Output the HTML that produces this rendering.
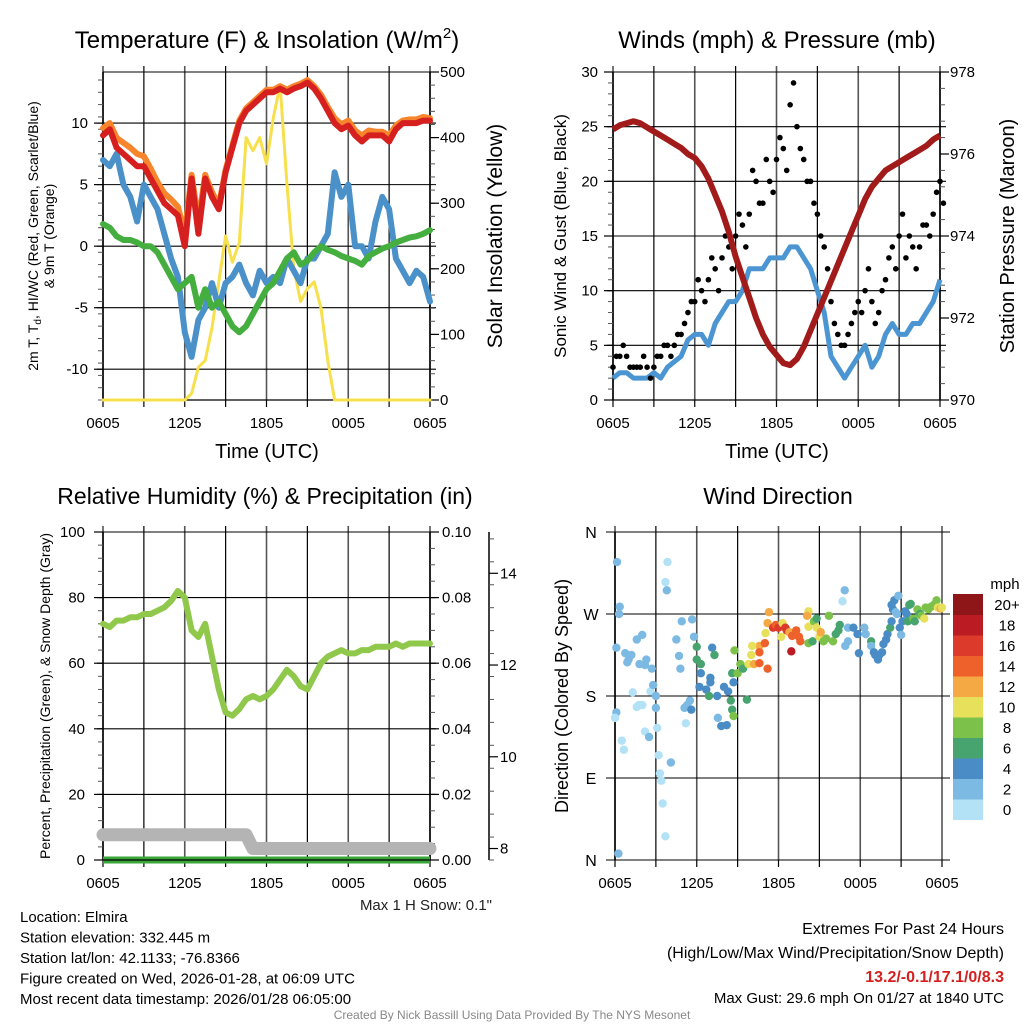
<!DOCTYPE html>
<html><head><meta charset="utf-8"><style>
html,body{margin:0;padding:0;background:#fff;}
svg{display:block;font-family:"Liberation Sans",Arial,sans-serif;}
</style></head><body>
<svg id="s" width="1024" height="1024" viewBox="0 0 1024 1024" xmlns="http://www.w3.org/2000/svg">
<g id="layer"></g>
</svg>
<script>
// ---------- data (hourly offsets 0..24 every 0.5 h) ----------
const xTickLabels = ["0605","1205","1805","0005","0605"];
const tempRed = [9,9.5,8,7.5,7,6.5,6.5,5.5,4.5,3.5,3,2.5,0,5.5,1,5.5,4,3,6,8,10,11,11.5,12,12.5,12.5,12.8,12.5,12.8,13,13.3,12.8,12,11,10,9.5,9.8,9,8.5,9,9,9,8.5,9.5,10,10,10,10.2,10.2];
const tempOrange = [9.6,10,8.8,8.4,8,7.5,7.3,6.3,5.2,4.3,3.8,3.2,1,5.8,2,5.8,4.4,3.3,6.2,8.2,10.2,11.2,11.7,12.2,12.7,12.7,13,12.7,13,13.2,13.5,13,12.3,11.3,10.4,9.9,10.2,9.4,9,9.4,9.3,9.3,9,9.8,10.2,10.3,10.3,10.5,10.4];
const dewGreen = [1.8,1.5,0.8,0.5,0.5,0.3,0,0,-0.5,-1.5,-2.5,-3.5,-3,-2.5,-5,-3.5,-5,-4.5,-5.5,-6.5,-7,-6.5,-5.5,-4.5,-3.5,-3,-2,-1,-0.5,-1.5,-1.2,-0.5,0,-0.3,-0.5,-0.8,-1,-1.2,-1.5,-0.8,-0.5,-0.2,0,0.3,0.5,0.7,0.8,1,1.3];
const chillBlue = [7,6.5,7.5,5,4,2,5,4,3,1,-1,-2.5,-7,-9,-6,-5,-3,-5,-3,-2.5,-1.5,-3,-4,-2,-3,-2.5,-3,-1,-2,-3,-1,-1,0,1,6,4,5,0,0,-1,2,4,3,-1,-2,-3,-2,-2.5,-4.5];
const solar = [0,0,0,0,0,0,0,0,0,0,0,0,0,10,50,60,110,180,250,210,240,400,380,400,360,430,480,330,200,150,170,180,140,60,0,0,0,0,0,0,0,0,0,0,0,0,0,0,0];
const windSonic = [2,2.5,2.5,2,2,2,2.5,2,3,3.5,4,5.5,6,6,5,7,8,9,9,10,12,12,12,13,13,13,14,14,13,12,10,8,4,3,2,3,4,5,3,4,6,7,6,6,7,7,8,9,11];
const windGust = [3,4,4,3,3,3,3,4,5,5,6,8,9,10,11,12,13,14,15,16,17,20,18,20,22,23,27,25,22,20,17,14,9,6,5,7,9,10,9,8,11,14,15,13,14,14,16,17,20];
const windGust2 = [4,5,3,3,4,2,4,5,4,6,7,9,11,9,13,10,15,12,17,14,21,18,22,19,24,21,29,23,20,18,15,12,7,5,6,8,8,12,7,10,13,12,17,15,12,16,15,19,18];
const pressure = [976.6,976.7,976.75,976.8,976.75,976.65,976.55,976.45,976.35,976.25,976.15,976.0,975.9,975.7,975.4,975.0,974.6,974.1,973.5,973.0,972.5,972.0,971.6,971.3,971.1,970.9,970.85,971.0,971.3,971.7,972.1,972.5,972.9,973.3,973.7,974.1,974.5,974.9,975.2,975.4,975.6,975.7,975.8,975.9,976.0,976.1,976.2,976.35,976.45];
const rhGreen = [72,71,73,73,74,74,75,75,76,77,79,82,80,70,68,72,62,52,45,44,46,49,50,49,50,52,55,58,56,53,52,56,60,62,63,64,63,63,64,64,65,65,65,66,65,66,66,66,66];
const precip = [0,0,0,0,0,0,0,0,0,0,0,0,0,0,0,0,0,0,0,0,0,0,0,0,0,0,0,0,0,0,0,0,0,0,0,0,0,0,0,0,0,0,0,0,0,0,0,0,0];
const snowDepth = [8.3,8.3,8.3,8.3,8.3,8.3,8.3,8.3,8.3,8.3,8.3,8.3,8.3,8.3,8.3,8.3,8.3,8.3,8.3,8.3,8.3,8.3,8.0,8.0,8.0,8.0,8.0,8.0,8.0,8.0,8.0,8.0,8.0,8.0,8.0,8.0,8.0,8.0,8.0,8.0,8.0,8.0,8.0,8.0,8.0,8.0,8.0,8.0,8.0];
const dirTimes = [0.15,0.1,0.1,0,0.35,0.3,0.5,0.65,0.25,0.75,0.9,1.0,1.2,1.3,1.6,1.75,1.8,2.0,1.6,2.2,2.3,2.0,2.2,2.5,2.6,2.7,2.8,3.0,3.0,3.1,3.2,3.3,3.4,3.5,3.7,3.7,3.8,3.85,4.1,4.9,4.5,4.7,4.8,5.1,5.2,5.3,5.5,5.6,5.66,5.8,6.0,6.0,6.3,6.3,6.2,6.7,6.9,7.0,7.13,7.3,7.0,7.5,7.55,7.8,8.2,8.0,8.3,8.5,8.6,8.7,8.77,8.6,8.7,9.0,9.2,9.4,9.68,9.8,10.0,10.2,10.6,10.6,10.07,10.6,11.0,11.2,11.05,11.2,11.3,11.6,11.8,12.0,12.2,12.3,12.5,12.6,12.94,12.8,13.0,13.3,13.5,13.6,14.2,14.1,14.2,14.2,14.5,14.6,14.8,14.8,15.0,15.1,15.3,15.5,15.7,16.0,16.2,16.4,16.5,16.9,17.1,17.1,16.7,16.86,17.5,17.8,17.9,18.3,18.4,18.8,18.8,19.0,19.1,19.3,19.4,19.6,19.7,19.9,20.0,20.2,20.3,20.3,20.4,20.5,20.6,20.7,20.8,20.9,21.0,21.1,21.3,21.4,21.5,21.6,21.7,21.9,22.0,22.2,22.4,22.5,22.7,22.8,23.0,23.2,23.4,23.6,23.7,23.9,24.0];
const dirDegrees = [327,233,162,156,278,270,131,121,7,227,217,220,225,184,168,170,215,247,242,214,220,170,141,135,185,210,192,180,167,145,115,95,87,62,26,305,296,327,107,262,242,224,210,167,150,170,175,165,264,245,234,220,215,205,190,187,180,200,233,225,195,180,156,147,148,190,185,175,165,158,230,205,195,205,215,210,176,215,225,215,235,216,235,228,238,210,249,260,272,255,258,255,245,260,255,252,229,250,246,252,245,240,273,268,256,238,240,262,265,255,245,250,240,243,268,240,248,252,258,235,240,255,284,296,255,248,227,255,248,240,235,228,225,220,225,228,237,242,248,255,262,280,275,285,272,270,290,255,247,262,273,270,262,280,281,265,262,275,270,268,265,277,275,278,280,285,277,276,277];
const dirSpeeds = [3,3,3,1,2,2,0,0,3,2,2,2,2,0,0,0,2,2,2,2,2,1,1,2,1,3,3,3,3,1,0,0,0,0,0,0,2,0,3,2,2,2,2,2,1,3,2,4,2,2,6,6,6,4,4,4,6,4,4,6,4,4,3,4,4,4,4,6,6,8,8,6,4,8,8,6,6,10,10,12,12,14,10,14,14,14,10,12,12,16,14,16,10,10,16,16,18,12,14,14,14,14,10,12,10,8,6,8,6,10,10,12,8,8,8,8,6,6,6,2,2,2,0,2,4,4,4,2,2,6,2,4,4,4,4,4,4,4,4,6,4,4,4,4,2,2,2,4,2,4,4,4,6,6,6,8,6,8,6,8,10,8,8,8,8,8,10,12,10];
const speedBins = ["0","2","4","6","8","10","12","14","16","18","20+"];
const binColors = ["#b3e2f7","#7cb9e3","#4a8dc6","#48a46f","#7cc24a","#e7e05a","#f5a945","#ee612a","#dc3a2b","#bb1c24","#8e1619"];

// ---------- helpers ----------
const NS="http://www.w3.org/2000/svg";
const root=document.getElementById('layer');
function mk(tag,attrs,parent,text){const e=document.createElementNS(NS,tag);for(const k in attrs)e.setAttribute(k,attrs[k]);if(text!==undefined)e.textContent=text;(parent||root).appendChild(e);return e;}
function grp(name){const g=mk('g',{});


return g;}
function txt(g,name,x,y,s,size,anchor,extra){const t=mk('text',Object.assign({x:x,y:y,'font-size':size,'text-anchor':anchor||'middle',fill:'#000'},extra||{}),g,s);


return t;}
const HOURS = tempRed.map((_,i)=>i*0.5);

function panel(name,x0,x1,y0,y1){
  const g=grp(name);
  const xs=h=>x0+(x1-x0)*h/24;
  // vertical grid every 3 h
  for(let k=0;k<=8;k++){const x=xs(k*3);
    const l=mk('line',{x1:x,x2:x,y1:y0-6,y2:y1,stroke:(k%2)?'#000':'#555','stroke-width':(k%2)?1.2:1.6},g);
    
    
    mk('line',{x1:x,x2:x,y1:y1,y2:y1+7,stroke:'#000','stroke-width':1.2},g);
  }
  xTickLabels.forEach((s,i)=>{txt(g,'x-tick-label',xs(i*6),y1+28,s,15);});
  return {g,xs};
}
function yaxis(g,x,y0,y1,vmin,vmax,ticks,minor,labelX,anchor,dir,grid,gx0,gx1,fmt){
  const ys=v=>y1-(v-vmin)/(vmax-vmin)*(y1-y0);
  mk('line',{x1:x,x2:x,y1:y0,y2:y1,stroke:'#000','stroke-width':1.5},g);
  for(let v=vmin;v<=vmax+1e-9;v+=minor){const y=ys(v);mk('line',{x1:x,x2:x+dir*5,y1:y,y2:y,stroke:'#555','stroke-width':1},g);}
  ticks.forEach(v=>{const y=ys(v);
    mk('line',{x1:x,x2:x+dir*9,y1:y,y2:y,stroke:'#000','stroke-width':1.2},g);
    if(grid){const l=mk('line',{x1:gx0,x2:gx1,y1:y,y2:y,stroke:'#000','stroke-width':1.1},g);
      
      }
    txt(g,'y-tick-label',labelX,y+5,fmt?fmt(v):String(v),15,anchor);
  });
  return ys;
}
function pathD(xs,ys,vals){return vals.map((v,i)=>(i?'L':'M')+xs(HOURS[i]).toFixed(1)+' '+ys(v).toFixed(1)).join(' ');}

// ---------- Panel 1: temperature ----------
(function(){
  const x0=103,x1=430,y0=72,y1=400;
  const {g,xs}=panel('temperature-panel',x0,x1,y0,y1);
  const ysT=yaxis(g,x0,y0,y1,-12.5,14.15,[-10,-5,0,5,10],1,88,'end',-1,true,x0-6,x1+6);
  const ysS=yaxis(g,x1,y0,y1,0,500,[0,100,200,300,400,500],20,440,'start',1,false);
  mk('line',{x1:x0,x2:x1,y1:y0,y2:y0,stroke:'#000','stroke-width':1.1},g);
  mk('line',{x1:x0,x2:x1,y1:y1,y2:y1,stroke:'#000','stroke-width':1.3},g);
  const series=[['solar-line',solar,ysS,'#f7e04b',3],['wind-chill-line',chillBlue,ysT,'#4a90c9',6],['dewpoint-line',dewGreen,ysT,'#44ae3f',6],['temp-9m-line',tempOrange,ysT,'#f7852c',6],['temp-2m-line',tempRed,ysT,'#d62020',6]];
  series.forEach(s=>{const p=mk('path',{d:pathD(xs,s[2],s[1]),fill:'none',stroke:s[3],'stroke-width':s[4],'stroke-linejoin':'round','stroke-linecap':'round'},g);
    
    });
  const t=txt(g,'chart-title',267,48,'',24);
  t.innerHTML='Temperature (F) &amp; Insolation (W/m<tspan font-size="15" dy="-10">2</tspan><tspan dy="10">)</tspan>';
  txt(g,'x-axis-title',267,458,'Time (UTC)',20);
  const yl=txt(g,'y-axis-title-left',0,0,'',14,'middle',{transform:'translate(38,236) rotate(-90)'});
  yl.innerHTML='2m T, T<tspan font-size="10" dy="3">d</tspan><tspan dy="-3">, HI/WC (Red, Green, Scarlet/Blue)</tspan>';
  txt(g,'y-axis-title-left-2',0,0,'& 9m T (Orange)',14,'middle',{transform:'translate(54,236) rotate(-90)'});
  txt(g,'y-axis-title-right',0,0,'Solar Insolation (Yellow)',21,'middle',{transform:'translate(502,236) rotate(-90)'});
})();

// ---------- Panel 2: winds ----------
(function(){
  const x0=613,x1=940,y0=72,y1=400;
  const {g,xs}=panel('winds-panel',x0,x1,y0,y1);
  const ysW=yaxis(g,x0,y0,y1,0,30,[0,5,10,15,20,25,30],1,598,'end',-1,true,x0-6,x1+6);
  const ysP=yaxis(g,x1,y0,y1,970,978,[970,972,974,976,978],0.4,950,'start',1,false);
  mk('line',{x1:x0,x2:x1,y1:y1,y2:y1,stroke:'#000','stroke-width':1.3},g);
  const p=mk('path',{d:pathD(xs,ysW,windSonic),fill:'none',stroke:'#4b96d2','stroke-width':5,'stroke-linejoin':'round'},g);
  
  
  [windGust,windGust2].forEach((arr,k)=>arr.forEach((v,i)=>{const c=mk('circle',{cx:xs(HOURS[i]+k*0.25),cy:ysW(v),r:2.8,fill:'#000'},g);
    
    }));
  const q=mk('path',{d:pathD(xs,ysP,pressure),fill:'none',stroke:'#a11b1b','stroke-width':6,'stroke-linejoin':'round'},g);
  
  
  txt(g,'chart-title',777,48,'Winds (mph) & Pressure (mb)',24);
  txt(g,'x-axis-title',777,458,'Time (UTC)',20);
  txt(g,'y-axis-title-left',0,0,'Sonic Wind & Gust (Blue, Black)',17,'middle',{transform:'translate(566,236) rotate(-90)'});
  txt(g,'y-axis-title-right',0,0,'Station Pressure (Maroon)',20,'middle',{transform:'translate(1014,236) rotate(-90)'});
})();

// ---------- Panel 3: RH ----------
(function(){
  const x0=103,x1=430,y0=532,y1=860;
  const {g,xs}=panel('humidity-panel',x0,x1,y0,y1);
  const ysR=yaxis(g,x0,y0,y1,0,100,[0,20,40,60,80,100],4,85,'end',-1,true,x0-6,x1+6);
  const ysPr=yaxis(g,x1,y0,y1,0,0.1,[0,0.02,0.04,0.06,0.08,0.1],0.005,442,'start',1,false,0,0,v=>v.toFixed(2));
  const ysSn=yaxis(g,489,y0,y1,7.75,14.9,[8,10,12,14],0.5,500,'start',1,false);
  const sn=mk('path',{d:pathD(xs,ysSn,snowDepth),fill:'none',stroke:'#b4b4b4','stroke-width':13,'stroke-linejoin':'round','stroke-linecap':'round'},g);
  
  
  const pr=mk('path',{d:pathD(xs,ysPr,precip),fill:'none',stroke:'#3aa63a','stroke-width':7},g);
  
  
  const rh=mk('path',{d:pathD(xs,ysR,rhGreen),fill:'none',stroke:'#8fc84b','stroke-width':6,'stroke-linejoin':'round','stroke-linecap':'round'},g);
  
  
  mk('line',{x1:x0,x2:x1,y1:y1,y2:y1,stroke:'#000','stroke-width':1.3},g);
  txt(g,'chart-title',265,504,'Relative Humidity (%) & Precipitation (in)',23);
  txt(g,'y-axis-title-left',0,0,'Percent, Precipitation (Green), & Snow Depth (Gray)',14,'middle',{transform:'translate(50,696) rotate(-90)'});
  txt(g,'snow-note',492,910,'Max 1 H Snow: 0.1"',15,'end',{fill:'#222'});
})();

// ---------- Panel 4: wind direction ----------
(function(){
  const x0=615,x1=942,y0=532,y1=860;
  const {g,xs}=panel('wind-direction-panel',x0,x1,y0,y1);
  const ysD=v=>y1-v/360*(y1-y0);
  mk('line',{x1:x0,x2:x0,y1:y0,y2:y1,stroke:'#000','stroke-width':1.5},g);
  ['N','E','S','W','N'].forEach((s,i)=>{const y=ysD(i*90);
    mk('line',{x1:x0-9,x2:x1+8,y1:y,y2:y,stroke:'#000','stroke-width':1.1},g);
    txt(g,'y-tick-label',591,y+6,s,16);});
  dirTimes.forEach((t,i)=>{const b=Math.min(10,Math.floor(dirSpeeds[i]/2));
    const c=mk('circle',{cx:xs(t),cy:ysD(dirDegrees[i]),r:4.2,fill:binColors[b]},g);
    
    });
  txt(g,'chart-title',778,504,'Wind Direction',23);
  txt(g,'y-axis-title-left',0,0,'Direction (Colored By Speed)',18,'middle',{transform:'translate(568,696) rotate(-90)'});
  const lg=grp('speed-legend');
  txt(lg,'legend-title',1005,589,'mph',15,'middle');
  const bh=20.5,top=594;
  speedBins.forEach((s,i)=>{const k=10-i;const y=top+(10-i)*bh;
    const r=mk('rect',{x:953,y:y,width:30,height:bh+0.5,fill:binColors[i]},lg);
    
    
    txt(lg,'legend-label',1007,y+16,s,15,'middle');});
})();

// ---------- footer text ----------
(function(){
  const g=grp('station-info');
  ['Location: Elmira','Station elevation: 332.445 m','Station lat/lon: 42.1133; -76.8366','Figure created on Wed, 2026-01-28, at 06:09 UTC','Most recent data timestamp: 2026/01/28 06:05:00'].forEach((s,i)=>txt(g,'info-line',20,922+i*20.5,s,15,'start'));
  const r=grp('extremes-info');
  txt(r,'extremes-title',1004,934,'Extremes For Past 24 Hours',16,'end');
  txt(r,'extremes-legend',1004,958,'(High/Low/Max Wind/Precipitation/Snow Depth)',16,'end');
  txt(r,'extremes-values',1004,982,'13.2/-0.1/17.1/0/8.3',16,'end',{fill:'#d42020','font-weight':'bold'});
  txt(r,'max-gust',1004,1003,'Max Gust: 29.6 mph On 01/27 at 1840 UTC',15,'end');
  txt(g,'credit',512,1019,'Created By Nick Bassill Using Data Provided By The NYS Mesonet',12,'middle',{fill:'#888'});
})();
</script>
</body></html>
